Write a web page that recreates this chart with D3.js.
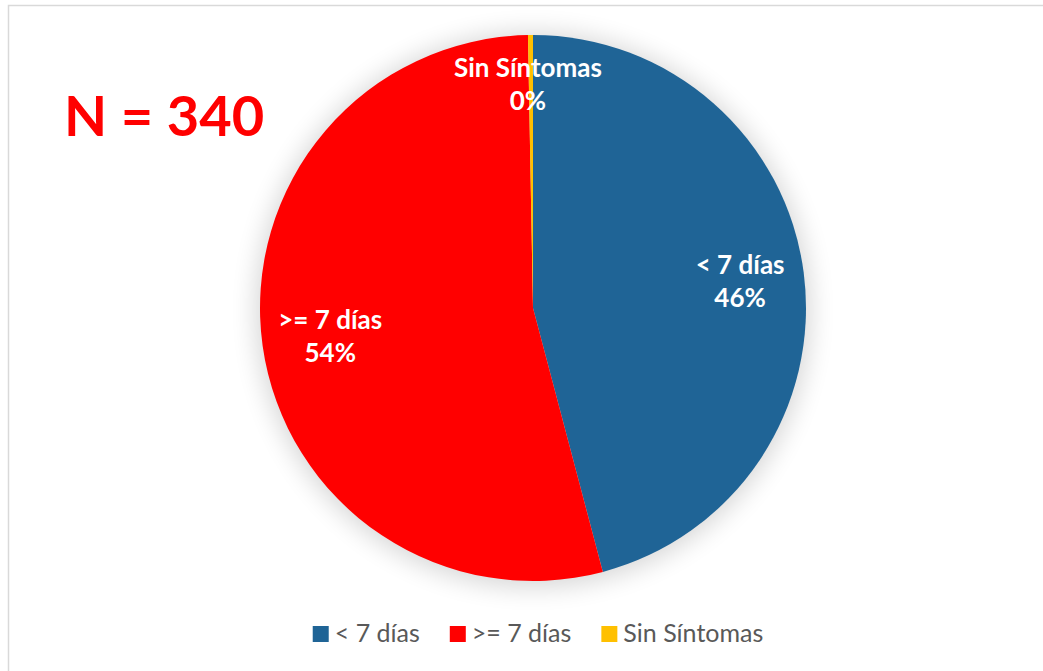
<!DOCTYPE html>
<html>
<head>
<meta charset="utf-8">
<script src="https://cdn.jsdelivr.net/npm/d3@7"></script>
<style>
  html, body { margin: 0; padding: 0; background: #fff; }
  svg { display: block; }
</style>
</head>
<body>
<svg id="chart" width="1043" height="671"></svg>
<script>
// Pacientes según duración de síntomas
const categories = ["< 7 días", ">= 7 días", "Sin Síntomas"];
const counts = [156, 183, 1];
const colors = ["#1F6496", "#FF0000", "#FFC000"];
const totalLabel = "N = 340";

const width = 1043, height = 671;
const cx = 533, cy = 308, radius = 273;
const svg = d3.select("#chart");

// chart frame
svg.append("rect")
  .attr("x", 8.5).attr("y", 5.5)
  .attr("width", width + 10).attr("height", height + 10)
  .attr("fill", "#fff").attr("stroke", "#d9d9d9").attr("stroke-width", 1.5);

// soft shadow behind the pie
const defs = svg.append("defs");
const f = defs.append("filter").attr("id", "glow")
  .attr("x", "-30%").attr("y", "-30%").attr("width", "160%").attr("height", "160%");
f.append("feGaussianBlur").attr("stdDeviation", 13);

svg.append("circle")
  .attr("cx", cx).attr("cy", cy + 2).attr("r", radius + 4)
  .attr("fill", "#000").attr("opacity", 0.16)
  .attr("filter", "url(#glow)");

const total = d3.sum(counts);
const data = categories.map((c, i) => ({ name: c, value: counts[i], color: colors[i] }));

const pie = d3.pie().value(d => d.value).sort(null);
const arcs = pie(data);
const arc = d3.arc().innerRadius(0).outerRadius(radius);

const g = svg.append("g").attr("transform", `translate(${cx},${cy})`);
g.selectAll("path.slice").data(arcs).join("path")
  .attr("class", "slice")
  .attr("d", arc)
  .attr("fill", d => d.data.color);

// data labels: category + percentage
const font = "Lato, 'Open Sans', sans-serif";
const labelFactor = [0.765, 0.75, 0.82];
const labels = g.selectAll("g.lbl").data(arcs).join("g")
  .attr("class", "lbl")
  .attr("transform", (d, i) => {
    const a = (d.startAngle + d.endAngle) / 2;
    const r = radius * labelFactor[i];
    return `translate(${Math.sin(a) * r - (i === 2 ? 3 : 0)},${-Math.cos(a) * r})`;
  });
labels.append("text")
  .attr("text-anchor", "middle")
  .attr("y", -7)
  .attr("font-family", font).attr("font-weight", 700).attr("font-size", 26)
  .attr("fill", "#fff")
  .text(d => d.data.name);
labels.append("text")
  .attr("text-anchor", "middle")
  .attr("y", 26)
  .attr("font-family", font).attr("font-weight", 700).attr("font-size", 26)
  .attr("fill", "#fff")
  .text(d => Math.round(d.data.value / total * 100) + "%");

// sample size
svg.append("text")
  .attr("x", 64).attr("y", 136)
  .attr("font-family", font).attr("font-weight", 700).attr("font-size", 56)
  .attr("fill", "#FF0000")
  .text(totalLabel);

// legend
const legend = svg.append("g");
const items = legend.selectAll("g").data(data).join("g");
items.append("rect")
  .attr("width", 16).attr("height", 16).attr("y", -16)
  .attr("fill", d => d.color);
items.append("text")
  .attr("x", 22).attr("y", 0)
  .attr("font-family", font).attr("font-size", 25)
  .attr("fill", "#595959")
  .text(d => d.name);
let xPos = 0;
const gap = 30;
items.each(function () {
  const w = d3.select(this).select("text").node().getComputedTextLength() + 22;
  d3.select(this).attr("transform", `translate(${xPos},0)`);
  xPos += w + gap;
});
const legendWidth = xPos - gap;
legend.attr("transform", `translate(${538 - legendWidth / 2},642)`);
</script>
</body>
</html>
